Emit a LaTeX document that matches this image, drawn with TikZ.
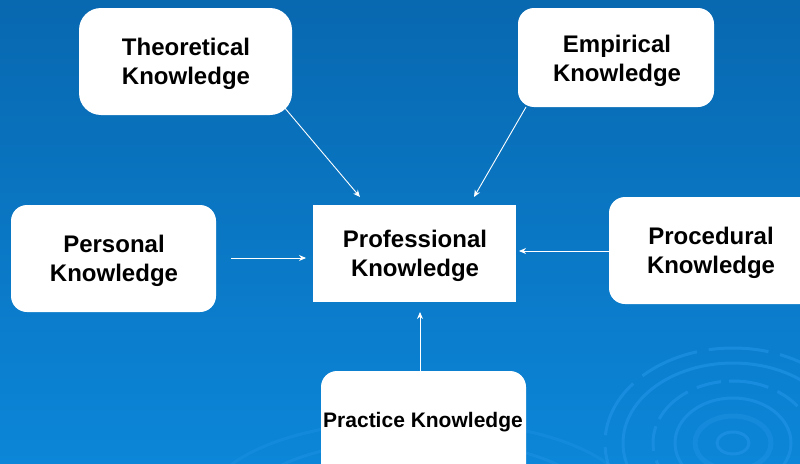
\documentclass[tikz,border=0pt]{standalone}
\usepackage{fontspec}
\setmainfont{Liberation Sans}
\usetikzlibrary{arrows.meta}
\definecolor{bgtop}{HTML}{0868B0}
\definecolor{bgbot}{HTML}{0C86D8}
\definecolor{ripple}{HTML}{2A9BEE}
\tikzset{
  kbox/.style={fill=white, rounded corners=16pt},
  pbox/.style={fill=white},
  ktext/.style={font=\fontsize{24}{29}\selectfont\bfseries, align=center, text=black},
  conn/.style={draw=white, line width=0.9pt, -{Stealth[length=7pt,width=6pt]}},
  rip/.style={draw=ripple, line width=3pt, opacity=0.45}
}
\begin{document}
\begin{tikzpicture}[x=1pt,y=-1pt]
\shade[top color=bgtop, bottom color=bgbot] (0,0) rectangle (800,463);
\useasboundingbox (0,0) rectangle (800,463);
% ripples
\begin{scope}
\clip (0,0) rectangle (800,463);
\draw[rip] (733,443) ellipse (16 and 11);
\draw[rip, line width=5pt, opacity=0.3] (733,443) ellipse (38 and 27);
\draw[rip] (733,443) ellipse (58 and 45);
\draw[rip, dash pattern=on 40pt off 10pt on 25pt off 8pt] (733,443) ellipse (80 and 62);
\draw[rip] (733,443) ellipse (110 and 80);
\draw[rip, dash pattern=on 60pt off 12pt] (733,443) ellipse (128 and 95);
\draw[rip, opacity=0.3] (420,500) ellipse (170 and 60);
\draw[rip, opacity=0.25] (420,500) ellipse (210 and 80);
\end{scope}
% boxes
\fill[kbox, rounded corners=22pt] (79,8) rectangle (292,115);
\node[ktext] (theo) at (186,64) {Theoretical\\Knowledge};
\fill[kbox] (518,8) rectangle (714,107);
\node[ktext] (emp) at (617,61) {Empirical\\Knowledge};
\fill[kbox] (11,205) rectangle (216,312);
\node[ktext] (pers) at (114,261) {Personal\\Knowledge};
\fill[pbox] (313,205) rectangle (516,302);
\node[ktext] (prof) at (415,256) {Professional\\Knowledge};
\fill[kbox] (609,197) rectangle (830,304);
\node[ktext] (proc) at (711,253) {Procedural\\Knowledge};
\fill[kbox] (321,371) rectangle (526,500);
\node[ktext, font=\fontsize{21}{25}\selectfont\bfseries] (prac) at (423,422) {Practice Knowledge};
% connectors
\coordinate (t1) at (284,107); \coordinate (t2) at (360,197);
\coordinate (e1) at (526,107); \coordinate (e2) at (474,197);
\coordinate (p1) at (231,258); \coordinate (p2) at (306,258);
\coordinate (r1) at (609,251); \coordinate (r2) at (519,251);
\coordinate (c1) at (420,371); \coordinate (c2) at (420,312);
\draw[conn] (t1) -- (t2);
\draw[conn] (e1) -- (e2);
\draw[conn] (p1) -- (p2);
\draw[conn] (r1) -- (r2);
\draw[conn] (c1) -- (c2);
\end{tikzpicture}
\end{document}
